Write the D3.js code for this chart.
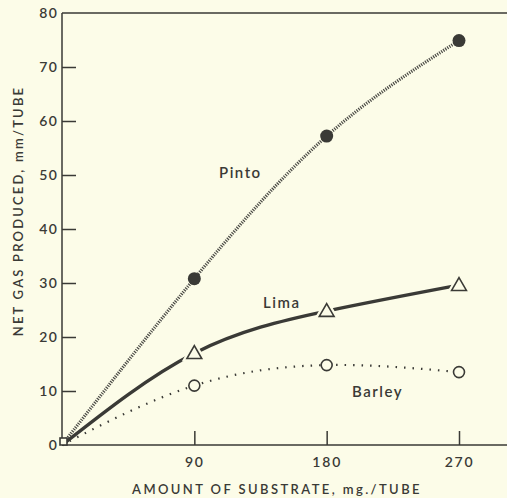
<!DOCTYPE html>
<html><head><meta charset="utf-8">
<script src="https://cdn.jsdelivr.net/npm/d3@7"></script>
<style>body{margin:0;background:#fcfce8;}svg{display:block;}text{font-family:Lato,"DejaVu Sans",sans-serif;fill:#3a3a36;}</style>
</head><body>
<script>
const substrate = [0, 90, 180, 270];
const pinto = [0, 30.8, 57.2, 74.9];
const lima = [0, 17.0, 24.8, 29.6];
const barley = [0, 11.0, 14.8, 13.5];
const xTicks = [90, 180, 270];
const yTicks = [0, 10, 20, 30, 40, 50, 60, 70, 80];

const W = 507, H = 498;
const bg = "#fcfce8", ink = "#3a3a36";
const svg = d3.select("body").append("svg").attr("width", W).attr("height", H);
svg.append("rect").attr("width", W).attr("height", H).attr("fill", bg);

const x = d3.scaleLinear().domain([0, 270]).range([62, 459]);
const y = d3.scaleLinear().domain([0, 80]).range([445, 13]);

// axes
const yAxis = d3.axisLeft(y).tickValues(yTicks).tickSize(-14).tickPadding(20).tickFormat(d3.format("d"));
const gy = svg.append("g").attr("transform", `translate(${x(0)},0)`).call(yAxis);
gy.select(".domain").remove();
gy.selectAll(".tick line").attr("stroke", ink).attr("stroke-width", 1.5).filter(d => d === 0 || d === 80).remove();
gy.selectAll(".tick text").attr("font-size", 14).attr("font-weight", 600).attr("letter-spacing", 1.2).attr("x", -4).attr("text-anchor", "end");

const gx = svg.append("g").attr("transform", `translate(0,${y(0)})`)
  .call(d3.axisBottom(x).tickValues(xTicks).tickSize(-14).tickPadding(12));
gx.select(".domain").remove();
gx.selectAll(".tick line").attr("stroke", ink).attr("stroke-width", 1.5);
gx.selectAll(".tick text").attr("font-size", 14).attr("font-weight", 600).attr("letter-spacing", 1.8);

// frame lines
svg.append("line").attr("x1", x(0)).attr("x2", W).attr("y1", y(0)).attr("y2", y(0)).attr("stroke", ink).attr("stroke-width", 1.5);
svg.append("line").attr("x1", x(0)).attr("x2", W).attr("y1", y(80)).attr("y2", y(80)).attr("stroke", ink).attr("stroke-width", 1.5);
svg.append("line").attr("x1", x(0)).attr("x2", x(0)).attr("y1", y(80)).attr("y2", y(0)).attr("stroke", ink).attr("stroke-width", 1.5);

// axis titles
svg.append("text").attr("x", 277).attr("y", 494).attr("text-anchor", "middle")
  .attr("font-size", 13).attr("font-weight", 600).attr("letter-spacing", 2.4).text("AMOUNT OF SUBSTRATE, mg./TUBE");
svg.append("text").attr("transform", "translate(23,211) rotate(-90)").attr("text-anchor", "middle")
  .attr("font-size", 13).attr("font-weight", 600).attr("letter-spacing", 2.2).text("NET GAS PRODUCED, mm/TUBE");

const line = d3.line().curve(d3.curveNatural);
const pts = vals => substrate.map((s, i) => [x(s), y(vals[i])]);

svg.append("path").attr("d", line(pts(pinto))).attr("fill", "none").attr("stroke", "#4a4a45")
  .attr("stroke-width", 3.2).attr("stroke-dasharray", "1.2,1.2");
svg.append("path").attr("d", line(pts(barley))).attr("fill", "none").attr("stroke", ink)
  .attr("stroke-width", 2.2).attr("stroke-dasharray", "1.5,7");
svg.append("path").attr("d", line(pts(lima))).attr("fill", "none").attr("stroke", ink)
  .attr("stroke-width", 3.4);

// markers
const sub = substrate.slice(1);
svg.selectAll(".pinto").data(sub).join("circle")
  .attr("cx", d => x(d)).attr("cy", (d, i) => y(pinto[i + 1])).attr("r", 6.5).attr("fill", ink);
svg.selectAll(".barley").data(sub).join("circle")
  .attr("cx", d => x(d)).attr("cy", (d, i) => y(barley[i + 1])).attr("r", 5.5)
  .attr("fill", bg).attr("stroke", ink).attr("stroke-width", 1.6);
const tri = d3.symbol().type(d3.symbolTriangle).size(95);
svg.selectAll(".lima-halo").data(sub).join("path")
  .attr("transform", (d, i) => `translate(${x(d)},${y(lima[i + 1]) + 1})`).attr("d", tri)
  .attr("fill", bg).attr("stroke", bg).attr("stroke-width", 6);
svg.selectAll(".lima").data(sub).join("path")
  .attr("transform", (d, i) => `translate(${x(d)},${y(lima[i + 1]) + 1})`).attr("d", tri)
  .attr("fill", bg).attr("stroke", ink).attr("stroke-width", 1.6);
// origin marker
svg.append("rect").attr("x", x(0) - 2).attr("y", y(0) - 7).attr("width", 7).attr("height", 7)
  .attr("fill", bg).attr("stroke", ink).attr("stroke-width", 1.6);

// labels
const lab = (t, xv, yv) => svg.append("text").attr("x", xv).attr("y", yv)
  .attr("font-size", 15).attr("font-weight", 600).attr("letter-spacing", 1.5).text(t);
lab("Pinto", 219, 178);
lab("Lima", 263, 308);
lab("Barley", 352, 397);
</script>
</body></html>
